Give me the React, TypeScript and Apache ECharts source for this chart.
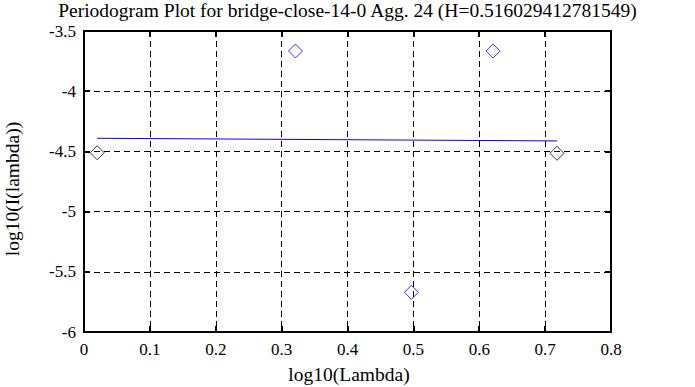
import React, { useEffect, useRef } from "react";
import * as echarts from "echarts";

const titleText = "Periodogram Plot for bridge-close-14-0 Agg. 24 (H=0.516029412781549)";
const xName = "log10(Lambda)";
const yName = "log10(I(lambda))";
const xTicks = [0, 0.1, 0.2, 0.3, 0.4, 0.5, 0.6, 0.7, 0.8];
const yTicks = [-3.5, -4, -4.5, -5, -5.5, -6];
// periodogram points (blue) and end points (black)
const bluePoints: [number, number][] = [
  [0.321, -3.666],
  [0.497, -5.67],
  [0.621, -3.666],
];
const blackPoints: [number, number][] = [
  [0.02, -4.511],
  [0.718, -4.516],
];
// fitted line
const fitLine: [number, number][] = [
  [0.02, -4.391],
  [0.718, -4.413],
];

const FONT = "'Liberation Serif', 'Times New Roman', serif";

export default function App() {
  const ref = useRef<HTMLDivElement>(null);
  useEffect(() => {
    if (!ref.current) return;
    const chart = echarts.init(ref.current, null, { renderer: "svg" });
    const axisCommon = {
      type: "value" as const,
      axisLine: { show: true, onZero: false, lineStyle: { color: "#000", width: 2 } },
      axisTick: { show: true, inside: true, length: 6, lineStyle: { color: "#000", width: 2 } },
    };
    chart.setOption({
      animation: false,
      backgroundColor: "#fff",
      textStyle: { fontFamily: FONT },
      title: {
        text: titleText,
        left: "center",
        top: 0,
        padding: 0,
        textStyle: { fontFamily: FONT, fontSize: 19.5, fontWeight: "normal", color: "#000", lineHeight: 20 },
      },
      graphic: [
        {
          type: "text",
          x: 349,
          y: 374,
          style: {
            text: xName,
            fontFamily: FONT,
            fontSize: 19.5,
            fill: "#000",
            textAlign: "center",
            textVerticalAlign: "middle",
          },
        },
        {
          type: "text",
          x: 12,
          y: 189,
          rotation: Math.PI / 2,
          style: {
            text: yName,
            fontFamily: FONT,
            fontSize: 19.5,
            fill: "#000",
            textAlign: "center",
            textVerticalAlign: "middle",
          },
        },
      ],
      grid: { left: 84, right: 84, top: 31, bottom: 55, containLabel: false },
      xAxis: [
        {
          ...axisCommon,
          min: 0,
          max: 0.8,
          interval: 0.1,
          position: "bottom",
          axisLabel: {
            fontFamily: FONT,
            fontSize: 17,
            color: "#000",
            margin: 9,
            formatter: (v: number) => {
              const t = xTicks.find((x) => Math.abs(x - v) < 1e-9);
              return t === undefined ? "" : String(t);
            },
          },
          splitLine: { show: true, lineStyle: { color: "#000", width: 1, type: [6, 4] } },
        },
        {
          ...axisCommon,
          min: 0,
          max: 0.8,
          interval: 0.1,
          position: "top",
          axisLabel: { show: false },
          splitLine: { show: false },
        },
      ],
      yAxis: [
        {
          ...axisCommon,
          min: -6,
          max: -3.5,
          interval: 0.5,
          position: "left",
          axisLabel: {
            fontFamily: FONT,
            fontSize: 17,
            color: "#000",
            margin: 8,
            formatter: (v: number) => {
              const t = yTicks.find((y) => Math.abs(y - v) < 1e-9);
              return t === undefined ? "" : String(t);
            },
          },
          splitLine: { show: true, lineStyle: { color: "#000", width: 1, type: [6, 4] } },
        },
        {
          ...axisCommon,
          min: -6,
          max: -3.5,
          interval: 0.5,
          position: "right",
          axisLabel: { show: false },
          splitLine: { show: false },
        },
      ],
      series: [
        {
          type: "line",
          data: fitLine,
          showSymbol: false,
          symbol: "none",
          lineStyle: { color: "#0000ff", width: 1 },
          z: 3,
        },
        {
          type: "scatter",
          data: bluePoints,
          symbol: "diamond",
          symbolSize: [14, 14],
          itemStyle: { color: "rgba(0,0,0,0)", borderColor: "#0000ff", borderWidth: 1 },
          z: 4,
        },
        {
          type: "scatter",
          data: blackPoints,
          symbol: "diamond",
          symbolSize: [14, 14],
          itemStyle: { color: "rgba(0,0,0,0)", borderColor: "#000", borderWidth: 1 },
          z: 4,
        },
      ],
    });
    return () => chart.dispose();
  }, []);
  return <div ref={ref} style={{ width: 695, height: 387, position: "absolute", left: 0, top: 0 }} />;
}
